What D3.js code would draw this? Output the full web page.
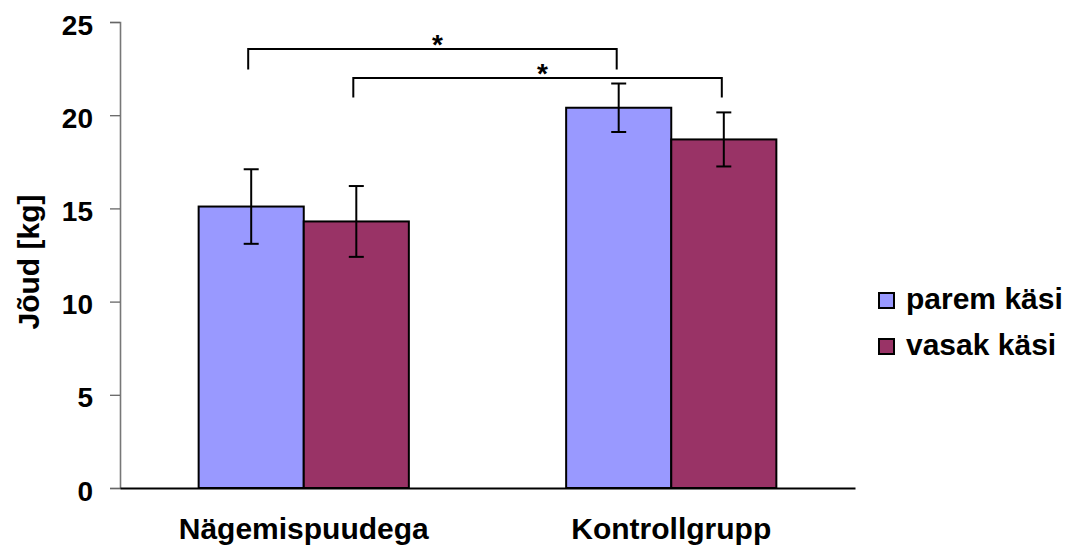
<!DOCTYPE html>
<html>
<head>
<meta charset="utf-8">
<script src="https://cdn.jsdelivr.net/npm/d3@7"></script>
<style>
  html, body { margin: 0; padding: 0; background: #fff; }
  svg { display: block; font-family: "Liberation Sans", Arial, sans-serif; }
</style>
</head>
<body>
<svg id="chart" width="1079" height="548"></svg>
<script>
// Grip strength by group and hand
const groups = ["Nägemispuudega", "Kontrollgrupp"];
const series = ["parem käsi", "vasak käsi"];
const paremValues = [15.1, 20.4];
const vasakValues = [14.3, 18.7];
const paremErrors = [2.0, 1.3];
const vasakErrors = [1.9, 1.45];
const yTicks = [0, 5, 10, 15, 20, 25];
const yLabel = "Jõud [kg]";
// significance brackets: bar pairs, bracket top and leg ends in kg
const brackets = [
  { a: [0, 0], b: [1, 0], top: 23.55, leg: 22.45, label: "*" },
  { a: [0, 1], b: [1, 1], top: 22.0, leg: 20.95, label: "*" }
];
const colors = ["#9999FF", "#993366"];

const values = [paremValues, vasakValues];
const errors = [paremErrors, vasakErrors];

const svg = d3.select("#chart");
const plotLeft = 120, plotRight = 855, plotTop = 22, plotBottom = 488;

const y = d3.scaleLinear().domain([0, 25]).range([plotBottom, plotTop]);
const x0 = d3.scaleBand().domain(groups).range([plotLeft, plotRight])
  .paddingInner(0.428).paddingOuter(0.214);
const x1 = d3.scaleBand().domain(series).range([0, x0.bandwidth()]).padding(0);

const rows = [];
groups.forEach((g, gi) => series.forEach((s, si) => {
  rows.push({ g, s, si, v: values[si][gi], e: errors[si][gi] });
}));

const barCenter = (gi, si) => x0(groups[gi]) + x1(series[si]) + x1.bandwidth() / 2;

// y axis
const yAxis = d3.axisLeft(y).tickValues(yTicks).tickSize(10).tickPadding(17);
const ya = svg.append("g").attr("transform", `translate(${plotLeft},0)`).call(yAxis);
ya.select(".domain").attr("stroke", "#777").attr("stroke-width", 1.6);
ya.selectAll(".tick line").attr("stroke", "#666").attr("stroke-width", 1.3);
ya.selectAll(".tick text")
  .attr("font-size", 28).attr("font-weight", "bold").attr("fill", "#000")
  .attr("dy", "0.43em")
  .attr("font-family", "'Liberation Sans', Arial, sans-serif");

// bars
svg.append("g").selectAll("rect").data(rows).join("rect")
  .attr("x", d => x0(d.g) + x1(d.s))
  .attr("y", d => y(d.v))
  .attr("width", x1.bandwidth())
  .attr("height", d => y(0) - y(d.v))
  .attr("fill", d => colors[d.si])
  .attr("stroke", "#000")
  .attr("stroke-width", 2);

// x axis
const xAxis = d3.axisBottom(x0).tickSize(0).tickPadding(30);
const xa = svg.append("g").attr("transform", `translate(0,${plotBottom})`).call(xAxis);
xa.select(".domain").attr("stroke", "#000").attr("stroke-width", 2.2);
xa.selectAll(".tick text")
  .attr("font-size", 30).attr("font-weight", "bold").attr("fill", "#000")
  .attr("font-family", "'Liberation Sans', Arial, sans-serif");

// error bars
const eg = svg.append("g").attr("stroke", "#000").attr("stroke-width", 2);
rows.forEach(d => {
  const cx = x0(d.g) + x1(d.s) + x1.bandwidth() / 2;
  eg.append("line").attr("x1", cx).attr("x2", cx).attr("y1", y(d.v + d.e)).attr("y2", y(d.v - d.e));
  [d.v + d.e, d.v - d.e].forEach(v => {
    eg.append("line").attr("x1", cx - 7.5).attr("x2", cx + 7.5).attr("y1", y(v)).attr("y2", y(v));
  });
});

// significance brackets
brackets.forEach(b => {
  const xa_ = barCenter(b.a[0], b.a[1]) - 3;
  const xb_ = barCenter(b.b[0], b.b[1]) - 2;
  svg.append("path")
    .attr("d", `M${xa_},${y(b.leg)}V${y(b.top)}H${xb_}V${y(b.leg)}`)
    .attr("fill", "none").attr("stroke", "#000").attr("stroke-width", 2);
  svg.append("text")
    .attr("x", (xa_ + xb_) / 2 + 5).attr("y", y(b.top) + 5)
    .attr("text-anchor", "middle")
    .attr("font-size", 28).attr("font-weight", "bold")
    .text(b.label);
});

// y axis title
svg.append("text")
  .attr("transform", "translate(39,262) rotate(-90)")
  .attr("text-anchor", "middle")
  .attr("font-size", 30).attr("font-weight", "bold")
  .text(yLabel);

// legend
const lg = svg.append("g").attr("transform", "translate(879,293)");
series.forEach((s, i) => {
  const row = lg.append("g").attr("transform", `translate(0,${i * 46})`);
  row.append("rect").attr("width", 15).attr("height", 15)
    .attr("fill", colors[i]).attr("stroke", "#000").attr("stroke-width", 2);
  row.append("text").attr("x", 27).attr("y", 16)
    .attr("font-size", 30).attr("font-weight", "bold").text(s);
});
</script>
</body>
</html>
